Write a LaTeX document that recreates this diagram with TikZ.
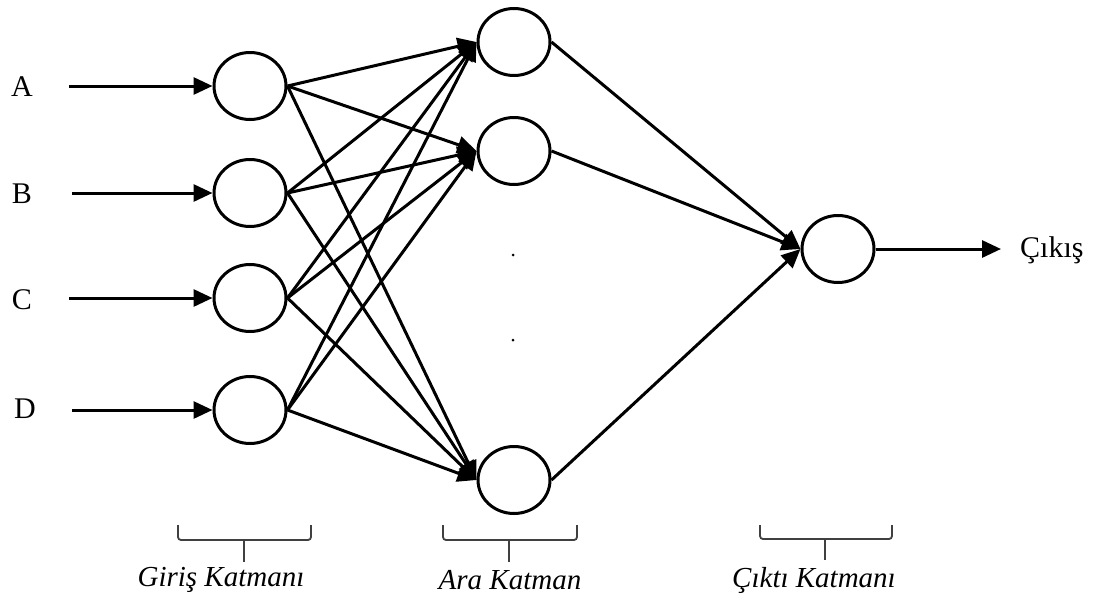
\documentclass[tikz,border=0pt]{standalone}
\usepackage{fontspec}
\setmainfont{Liberation Serif}
\usetikzlibrary{arrows.meta,shapes.geometric}
\begin{document}
\begin{tikzpicture}[x=1pt,y=-1pt,
  neuron/.style={ellipse,draw,line width=3pt,inner sep=0pt,minimum width=72pt,minimum height=67pt},
  link/.style={line width=3pt,-{Triangle[length=19pt,width=17pt]}},
  lbl/.style={font=\fontsize{30}{34}\selectfont,inner sep=0pt},
  layerlbl/.style={font=\fontsize{29}{34}\selectfont\itshape,inner sep=0pt},
  bracket/.style={draw=black!75,line width=1.8pt,rounded corners=3pt}]
\useasboundingbox (0,0) rectangle (1097,603);
\fill[white] (0,0) rectangle (1097,603);

% input layer
\node[neuron] (i1) at (250,86) {};
\node[neuron] (i2) at (250,193) {};
\node[neuron] (i3) at (250,298) {};
\node[neuron] (i4) at (250,410) {};

% hidden layer
\node[neuron] (h1) at (514,42) {};
\node[neuron] (h2) at (514,151) {};
\node[neuron] (h3) at (514,480) {};

% output layer
\node[neuron] (o) at (838,249) {};

% input labels and arrows
\node[lbl] (la) at (22,87) {A};
\node[lbl] (lb) at (22,194) {B};
\node[lbl] (lc) at (22,300) {C};
\node[lbl] (ld) at (25,409) {D};
\coordinate (sa) at (69,86);
\coordinate (sb) at (72,193);
\coordinate (sc) at (69,298);
\coordinate (sd) at (72,410);
\draw[link] (sa) -- (i1.west);
\draw[link] (sb) -- (i2.west);
\draw[link] (sc) -- (i3.west);
\draw[link] (sd) -- (i4.west);

% input -> hidden
\foreach \i in {i1,i2,i3,i4}
  \foreach \h in {h1,h2,h3}
    \draw[link] (\i.east) -- (\h.west);

% hidden -> output
\foreach \h in {h1,h2,h3}
  \draw[link] (\h.east) -- (o.west);

% output arrow
\node[lbl,anchor=west] (out) at (1020,250) {Çıkış};
\coordinate (oe) at (1001,249);
\draw[link] (o.east) -- (oe);

% omitted hidden units
\fill (513,255) circle (1.5pt);
\fill (513,340) circle (1.5pt);

% layer brackets
\draw[bracket] (178,525) -- (178,540) -- (311,540) -- (311,525);
\draw[bracket] (244,540) -- (244,562);
\draw[bracket] (443,525) -- (443,540) -- (577,540) -- (577,525);
\draw[bracket] (509,540) -- (509,562);
\draw[bracket] (760,525) -- (760,539) -- (892,539) -- (892,525);
\draw[bracket] (825,539) -- (825,560);

\node[layerlbl] (g) at (221,580) {Giriş Katmanı};
\node[layerlbl] (a) at (510,580) {Ara Katman};
\node[layerlbl] (c) at (814,580) {Çıktı Katmanı};
\end{tikzpicture}
\end{document}
